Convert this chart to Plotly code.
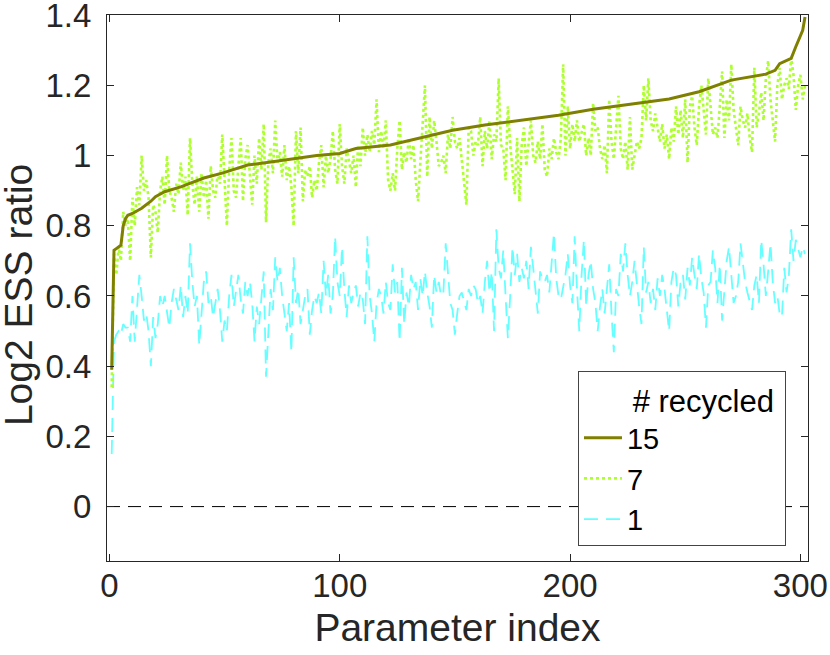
import plotly.graph_objects as go

# parameter index on the x axis
param_index = list(range(1, 303))

# log2 ESS ratio, 7 recycled (dotted)
ess_7 = [
    0.34, 0.72, 0.66, 0.74, 0.70, 0.84, 0.80, 0.82, 0.70, 0.88,
    0.80, 0.91, 0.86, 1.00, 0.90, 0.93, 0.88, 0.71, 0.86, 0.84,
    0.78, 0.90, 0.94, 0.86, 1.00, 0.90, 0.88, 0.84, 0.92, 0.89,
    0.98, 0.90, 0.94, 0.83, 1.05, 0.92, 0.86, 0.94, 0.84, 0.95,
    0.88, 0.93, 0.82, 0.97, 0.90, 0.88, 0.95, 0.92, 1.06, 0.93,
    0.80, 0.96, 1.05, 0.90, 0.88, 0.97, 1.05, 0.87, 0.99, 1.03,
    0.95, 0.86, 1.00, 0.92, 1.05, 0.96, 1.09, 0.81, 0.98, 1.02,
    0.95, 1.10, 0.98, 1.01, 0.94, 1.03, 0.93, 0.97, 0.91, 0.80,
    1.07, 0.95, 1.08, 0.87, 0.96, 0.94, 0.97, 0.88, 0.93, 0.90,
    0.98, 1.03, 0.91, 1.00, 0.95, 0.99, 1.07, 0.96, 0.92, 1.09,
    0.97, 0.92, 1.02, 0.98, 0.95, 1.00, 0.91, 1.03, 0.97, 1.08,
    1.00, 1.06, 1.01, 1.07, 1.03, 1.16, 1.01, 1.07, 1.02, 1.10,
    0.93, 0.90, 0.95, 0.90, 1.02, 1.10, 0.96, 1.01, 0.98, 1.05,
    0.99, 1.03, 0.93, 0.87, 0.98, 1.06, 1.20, 0.94, 1.11, 1.02,
    1.10, 1.04, 0.97, 0.98, 1.00, 0.95, 1.06, 1.02, 1.11, 1.04,
    1.02, 1.05, 0.98, 0.92, 0.86, 1.08, 1.07, 1.00, 1.04, 1.03,
    1.11, 0.97, 1.07, 1.02, 1.10, 0.99, 1.06, 1.04, 1.22, 1.03,
    1.02, 0.93, 1.14, 1.03, 0.96, 0.89, 1.05, 0.87, 1.03, 1.08,
    0.97, 1.04, 1.10, 1.00, 0.98, 1.04, 0.99, 1.09, 0.96, 0.94,
    1.02, 0.99, 1.05, 1.01, 0.99, 1.05, 1.26, 1.00, 1.14, 1.02,
    1.09, 1.04, 1.10, 1.04, 1.07, 1.09, 1.00, 1.05, 1.00, 1.15,
    1.07, 1.08, 1.02, 0.99, 1.03, 0.95, 1.16, 1.04, 0.99, 1.08,
    1.17, 1.02, 0.99, 1.04, 0.96, 1.11, 0.96, 1.00, 1.04, 1.02,
    1.05, 1.20, 1.10, 1.22, 1.10, 1.07, 1.12, 1.08, 1.04, 1.09,
    1.02, 1.06, 0.99, 1.08, 1.04, 1.14, 1.06, 1.13, 1.05, 1.16,
    0.98, 1.14, 1.17, 1.08, 1.03, 1.14, 1.20, 1.13, 1.06, 1.22,
    1.13, 1.06, 1.08, 1.05, 1.14, 1.24, 1.05, 1.16, 1.10, 1.26,
    1.13, 1.08, 1.03, 1.14, 1.10, 1.08, 1.12, 1.05, 1.01, 1.25,
    1.08, 1.12, 1.18, 1.10, 1.22, 1.27, 1.16, 1.10, 1.04, 1.20,
    1.25, 1.16, 1.20, 1.22, 1.19, 1.28, 1.23, 1.13, 1.20, 1.23,
    1.16, 1.20,
]

# log2 ESS ratio, 1 recycled (dashed)
ess_1 = [
    0.15, 0.47, 0.49, 0.50, 0.49, 0.52, 0.51, 0.51, 0.47, 0.60,
    0.47, 0.58, 0.66, 0.60, 0.53, 0.55, 0.50, 0.40, 0.54, 0.48,
    0.52, 0.60, 0.57, 0.60, 0.55, 0.51, 0.58, 0.62, 0.59, 0.56,
    0.63, 0.54, 0.60, 0.55, 0.75, 0.64, 0.57, 0.60, 0.46, 0.56,
    0.64, 0.67, 0.58, 0.60, 0.54, 0.58, 0.62, 0.56, 0.47, 0.53,
    0.50, 0.60, 0.66, 0.57, 0.62, 0.66, 0.59, 0.55, 0.64, 0.60,
    0.64, 0.58, 0.47, 0.57, 0.52, 0.60, 0.67, 0.37, 0.50, 0.62,
    0.56, 0.71, 0.64, 0.68, 0.60, 0.55, 0.50, 0.58, 0.44, 0.71,
    0.58, 0.62, 0.52, 0.56, 0.60, 0.62, 0.49, 0.56, 0.60, 0.58,
    0.61, 0.55, 0.70, 0.60, 0.66, 0.55, 0.60, 0.77, 0.64, 0.60,
    0.74, 0.62, 0.54, 0.63, 0.58, 0.61, 0.63, 0.57, 0.61, 0.59,
    0.52, 0.77, 0.60, 0.55, 0.47, 0.58, 0.62, 0.60, 0.55, 0.64,
    0.58, 0.56, 0.69, 0.61, 0.64, 0.47, 0.68, 0.52, 0.61, 0.57,
    0.66, 0.62, 0.64, 0.56, 0.65, 0.60, 0.67, 0.61, 0.57, 0.51,
    0.66, 0.61, 0.64, 0.60, 0.61, 0.75, 0.66, 0.58, 0.56, 0.49,
    0.55, 0.60, 0.61, 0.58, 0.56, 0.62, 0.60, 0.63, 0.62, 0.58,
    0.60, 0.55, 0.64, 0.70, 0.61, 0.67, 0.50, 0.79, 0.68, 0.65,
    0.73, 0.60, 0.48, 0.60, 0.74, 0.66, 0.72, 0.64, 0.68, 0.65,
    0.70, 0.62, 0.74, 0.68, 0.62, 0.55, 0.67, 0.65, 0.64, 0.66,
    0.61, 0.69, 0.78, 0.65, 0.60, 0.59, 0.63, 0.66, 0.72, 0.63,
    0.58, 0.77, 0.62, 0.50, 0.66, 0.76, 0.57, 0.66, 0.70, 0.62,
    0.58, 0.50, 0.57, 0.62, 0.55, 0.63, 0.69, 0.55, 0.44, 0.62,
    0.60, 0.72, 0.67, 0.75, 0.66, 0.60, 0.64, 0.70, 0.63, 0.57,
    0.52, 0.74, 0.61, 0.64, 0.58, 0.62, 0.56, 0.65, 0.60, 0.66,
    0.62, 0.56, 0.50, 0.64, 0.68, 0.66, 0.57, 0.64, 0.66, 0.59,
    0.68, 0.63, 0.71, 0.66, 0.62, 0.72, 0.65, 0.61, 0.51, 0.63,
    0.64, 0.73, 0.68, 0.58, 0.69, 0.53, 0.62, 0.70, 0.74, 0.67,
    0.58, 0.60, 0.64, 0.75, 0.69, 0.64, 0.61, 0.58, 0.56, 0.63,
    0.66, 0.58, 0.76, 0.69, 0.60, 0.67, 0.75, 0.64, 0.58, 0.60,
    0.55, 0.54, 0.68, 0.61, 0.66, 0.79, 0.70, 0.76, 0.73, 0.71,
    0.74, 0.72,
]

# log2 ESS ratio, 15 recycled (sorted, solid) - read at points along the curve
ess_15_x = [1, 2, 3, 4, 5, 6, 7, 8, 10, 14, 18, 20, 24, 31, 41, 49, 60, 70,
            80, 90, 100, 107, 122, 131, 149, 163, 183, 195, 210, 224, 243,
            256, 270, 285, 289, 291, 296, 298, 301, 302]
ess_15 = [0.39, 0.73, 0.735, 0.74, 0.745, 0.80, 0.82, 0.83, 0.835, 0.85,
          0.87, 0.883, 0.897, 0.911, 0.936, 0.95, 0.973, 0.982, 0.992, 1.0,
          1.006, 1.02, 1.03, 1.044, 1.072, 1.087, 1.104, 1.115, 1.132, 1.144,
          1.161, 1.182, 1.215, 1.232, 1.243, 1.262, 1.277, 1.31, 1.357, 1.395]

x_ticks = [0, 100, 200, 300]
y_ticks = [0, 0.2, 0.4, 0.6, 0.8, 1.0, 1.2, 1.4]
y_labels = ['0', '0.2', '0.4', '0.6', '0.8', '1', '1.2', '1.4']

font_family = 'Liberation Sans, Arial, Helvetica, sans-serif'
ink = '#262626'
nbsp = '\u00a0'

fig = go.Figure()

fig.add_trace(go.Scatter(x=param_index, y=ess_1, mode='lines', name='1',
                         line=dict(color='#66ffff', width=1.8, dash='14px,8px')))
fig.add_trace(go.Scatter(x=param_index, y=ess_7, mode='lines', name='7',
                         line=dict(color='#adff2f', width=2.6, dash='3px,3px')))
fig.add_trace(go.Scatter(x=ess_15_x, y=ess_15, mode='lines', name='15',
                         line=dict(color='#808000', width=3)))

# dashed reference line at zero
fig.add_shape(type='line', xref='x domain', x0=0, x1=1, yref='y', y0=0, y1=0,
              line=dict(color='black', width=1, dash='13px,8px'), layer='below')

axis_style = dict(showline=True, linecolor=ink, linewidth=1, mirror='ticks',
                  ticks='inside', ticklen=7, tickcolor=ink, showgrid=False,
                  zeroline=False, tickfont=dict(size=33, color=ink),
                  ticklabeloverflow='allow')

fig.update_xaxes(range=[-1.04, 303.3], tickvals=x_ticks, ticklabelstandoff=-5,
                 title=dict(text='Parameter index', font=dict(size=39, color=ink), standoff=11),
                 **axis_style)
fig.update_yaxes(range=[-0.155, 1.4005], tickvals=y_ticks, ticktext=y_labels, ticklabelstandoff=8,
                 **axis_style)

# y title placed as an annotation so it can sit a little below the plot centre
fig.add_annotation(text='Log2 ESS ratio', textangle=-90, showarrow=False,
                   xref='paper', yref='paper', x=-0.127, y=0.487,
                   xanchor='center', yanchor='middle',
                   font=dict(size=39, color=ink))

fig.update_layout(
    width=830, height=655,
    margin=dict(l=107, r=22, t=15, b=94, autoexpand=False),
    plot_bgcolor='white', paper_bgcolor='white',
    font=dict(family=font_family, color=ink),
    legend=dict(x=0.9686, xanchor='right', y=0.0275, yanchor='bottom',
                bgcolor='white', bordercolor='#444444', borderwidth=1,
                font=dict(size=29, color='black'), traceorder='reversed',
                itemwidth=38,
                title=dict(text=nbsp * 6 + '# recycled' + nbsp, side='top',
                           font=dict(size=31, color='black'))),
)

# the page body has a default 8px margin; drop it so the figure sits at the corner
fig.write_html('out.html', config={'displayModeBar': False},
               post_script="document.body.style.margin='0px';")
